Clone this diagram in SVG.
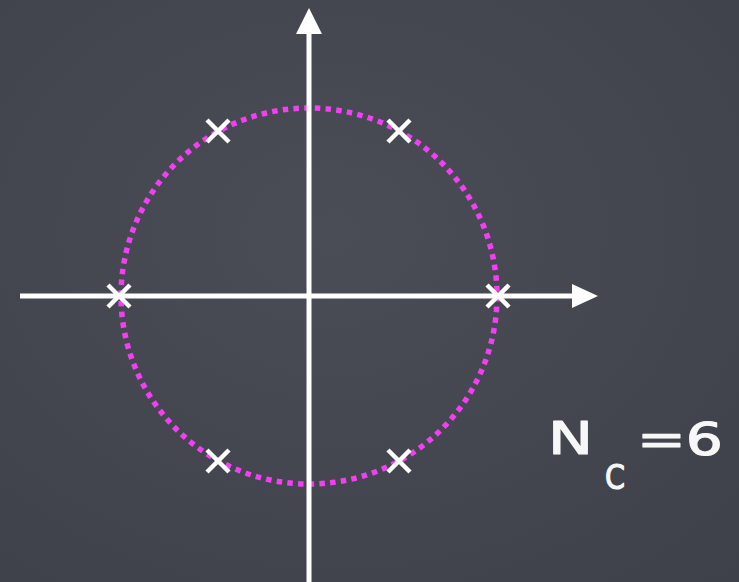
<svg xmlns="http://www.w3.org/2000/svg" width="739" height="582" viewBox="0 0 739 582">
<defs>
<style>
.ax{stroke:#ffffff;stroke-width:5;fill:none}
.hd{fill:#ffffff}
.x{stroke:#ffffff;stroke-width:4.5;fill:none}
.lbl{fill:#f7f7f7;stroke:#f7f7f7;stroke-width:1.2;stroke-linejoin:round;font-family:"DejaVu Sans","Liberation Sans",sans-serif}
</style>
<radialGradient id="bg" cx="0.45" cy="0.4" r="0.8">
<stop offset="0" stop-color="#4a4d56"/>
<stop offset="1" stop-color="#3e4149"/>
</radialGradient>
</defs>
<rect width="739" height="582" fill="url(#bg)"/>
<g id="circle">
<circle cx="309" cy="296" r="188" fill="none" stroke="#f23ff3" stroke-width="5.5" stroke-dasharray="5.5 5.24"/>
</g>
<g id="axes">
<line class="ax" x1="20" y1="296" x2="574" y2="296"/>
<polygon class="hd" points="572,284 598,296 572,308"/>
<line class="ax" x1="309" y1="582" x2="309" y2="32"/>
<polygon class="hd" points="296,34 309,8 322,34"/>
</g>
<g id="poles">
<path class="x" d="M207,120 L229,142 M229,120 L207,142"/>
<path class="x" d="M388,120 L410,142 M410,120 L388,142"/>
<path class="x" d="M108,285 L130,307 M130,285 L108,307"/>
<path class="x" d="M487,285 L509,307 M509,285 L487,307"/>
<path class="x" d="M207,450 L229,472 M229,450 L207,472"/>
<path class="x" d="M388,450 L410,472 M410,450 L388,472"/>
</g>
<g id="label">
<text class="lbl" x="548" y="454" font-size="45" textLength="45" lengthAdjust="spacingAndGlyphs">N</text>
<text class="lbl" x="605" y="489" font-size="33" textLength="20" lengthAdjust="spacingAndGlyphs">C</text>
<text class="lbl" x="637" y="455" font-size="44" textLength="86" lengthAdjust="spacingAndGlyphs">=6</text>
</g>
</svg>
